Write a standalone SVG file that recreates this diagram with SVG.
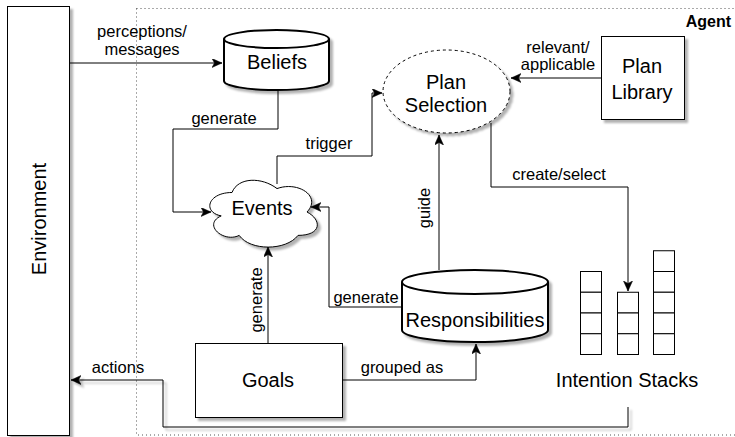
<svg xmlns="http://www.w3.org/2000/svg" width="735" height="437" viewBox="0 0 735 437">
<style>
  text { font-family: "Liberation Sans", Arial, sans-serif; fill: #000; }
  .lbl { font-size: 16.5px; text-anchor: middle; }
  .node { font-size: 20px; text-anchor: middle; }
  .edge { fill: none; stroke: #000; stroke-width: 1; }
  .box { fill: #fff; stroke: #000; stroke-width: 1; }
  .cyl { fill: #fff; stroke: #000; stroke-width: 2; }
  .cell { fill: #fff; stroke: #000; stroke-width: 1; }
</style>
<defs>
  <marker id="arr" markerUnits="userSpaceOnUse" markerWidth="11" markerHeight="10" refX="10" refY="4.5" orient="auto">
    <path d="M0,0 L10,4.5 L0,9 L2.5,4.5 Z" fill="#000" stroke="#000" stroke-width="0.5"/>
  </marker>
  <filter id="sh" x="-10%" y="-10%" width="130%" height="130%">
    <feDropShadow dx="3" dy="3" stdDeviation="0.8" flood-color="#000" flood-opacity="0.3"/>
  </filter>
</defs>
<rect width="735" height="437" fill="#fff"/>

<g id="agent">
  <rect x="136.5" y="8.5" width="620" height="426.5" fill="none" stroke="#555" stroke-width="1" stroke-dasharray="1,3"/>
  <text x="731" y="27" style="font-size:16px;font-weight:bold;text-anchor:end">Agent</text>
</g>

<g id="connectors">
  <path class="edge" d="M69,63 H222" marker-end="url(#arr)"/>
  <text class="lbl" x="142" y="37">perceptions/</text>
  <text class="lbl" x="142" y="55">messages</text>

  <path class="edge" d="M278,90 V129 H173 V212 H211" marker-end="url(#arr)"/>
  <text class="lbl" x="224" y="124">generate</text>

  <path class="edge" d="M277,184 V156 H372 V93 H382" marker-end="url(#arr)"/>
  <text class="lbl" x="329" y="149">trigger</text>

  <path class="edge" d="M601,78 H511" marker-end="url(#arr)"/>
  <text class="lbl" x="558" y="53">relevant/</text>
  <text class="lbl" x="558" y="70">applicable</text>

  <path class="edge" d="M491,123 V187 H628 V291" marker-end="url(#arr)"/>
  <text class="lbl" x="559" y="180">create/select</text>

  <path class="edge" d="M439,270 V135" marker-end="url(#arr)" stroke="#444"/>
  <text class="lbl" transform="translate(430,208) rotate(-90)">guide</text>

  <path class="edge" d="M402,307 H329 V207 H311" marker-end="url(#arr)"/>
  <text class="lbl" x="366" y="303">generate</text>

  <path class="edge" d="M268,343 V247" marker-end="url(#arr)"/>
  <text class="lbl" transform="translate(262,300) rotate(-90)">generate</text>

  <path class="edge" d="M342,380 H476 V344" marker-end="url(#arr)"/>
  <text class="lbl" x="402" y="373">grouped as</text>

  <path class="edge" d="M628,407 V427 H163 V380 H71" marker-end="url(#arr)" filter="url(#sh)"/>
  <text class="lbl" x="118" y="373">actions</text>
</g>

<g id="environment">
  <rect class="box" x="7.5" y="6.5" width="62" height="429" filter="url(#sh)"/>
  <text class="node" transform="translate(46,219) rotate(-90)">Environment</text>
</g>

<g id="beliefs">
  <path class="cyl" filter="url(#sh)" d="M224,39 A52.5,9 0 0 1 329,39 V81 A52.5,9 0 0 1 224,81 Z"/>
  <path class="cyl" d="M224,39 A52.5,9 0 0 0 329,39"/>
  <text class="node" x="277" y="69">Beliefs</text>
</g>

<g id="plan-selection">
  <ellipse cx="446.5" cy="91.5" rx="63.5" ry="41.5" fill="#fff" stroke="#000" stroke-width="1" stroke-dasharray="3,3" filter="url(#sh)"/>
  <text class="node" x="446" y="89">Plan</text>
  <text class="node" x="446" y="112">Selection</text>
</g>

<g id="plan-library">
  <rect class="box" x="601.5" y="36.5" width="83" height="83" filter="url(#sh)"/>
  <text class="node" x="642" y="73">Plan</text>
  <text class="node" x="642" y="99">Library</text>
</g>

<g id="events">
  <path fill="#fff" stroke="#000" stroke-width="1" filter="url(#sh)" d="M232,192.5 C208,192.5 202,212 221.2,215.9 C202,224.5 223.6,243.2 239.2,235.4 C250,251 286,251 298,235.4 C322,235.4 322,219.8 307,212 C322,196.4 298,180.8 277,188.6 C262,176.9 238,176.9 232,192.5 Z"/>
  <text class="node" x="262" y="215">Events</text>
</g>

<g id="responsibilities">
  <path class="cyl" filter="url(#sh)" d="M402,282 A73,12 0 0 1 548,282 V330 A73,12 0 0 1 402,330 Z"/>
  <path class="cyl" d="M402,282 A73,12 0 0 0 548,282"/>
  <text class="node" x="475" y="327">Responsibilities</text>
</g>

<g id="goals">
  <rect class="box" x="195.5" y="343.5" width="147" height="74" filter="url(#sh)"/>
  <text class="node" x="268" y="387">Goals</text>
</g>

<g id="intention-stacks">
  <rect class="cell" x="580.5" y="271.5" width="21" height="20.75"/>
  <rect class="cell" x="580.5" y="292.25" width="21" height="20.75"/>
  <rect class="cell" x="580.5" y="313" width="21" height="20.75"/>
  <rect class="cell" x="580.5" y="333.75" width="21" height="20.75"/>
  <rect class="cell" x="617.5" y="292.25" width="21" height="20.75"/>
  <rect class="cell" x="617.5" y="313" width="21" height="20.75"/>
  <rect class="cell" x="617.5" y="333.75" width="21" height="20.75"/>
  <rect class="cell" x="653.5" y="250.75" width="21" height="20.75"/>
  <rect class="cell" x="653.5" y="271.5" width="21" height="20.75"/>
  <rect class="cell" x="653.5" y="292.25" width="21" height="20.75"/>
  <rect class="cell" x="653.5" y="313" width="21" height="20.75"/>
  <rect class="cell" x="653.5" y="333.75" width="21" height="20.75"/>
  <text class="node" x="627" y="387">Intention Stacks</text>
</g>
</svg>
